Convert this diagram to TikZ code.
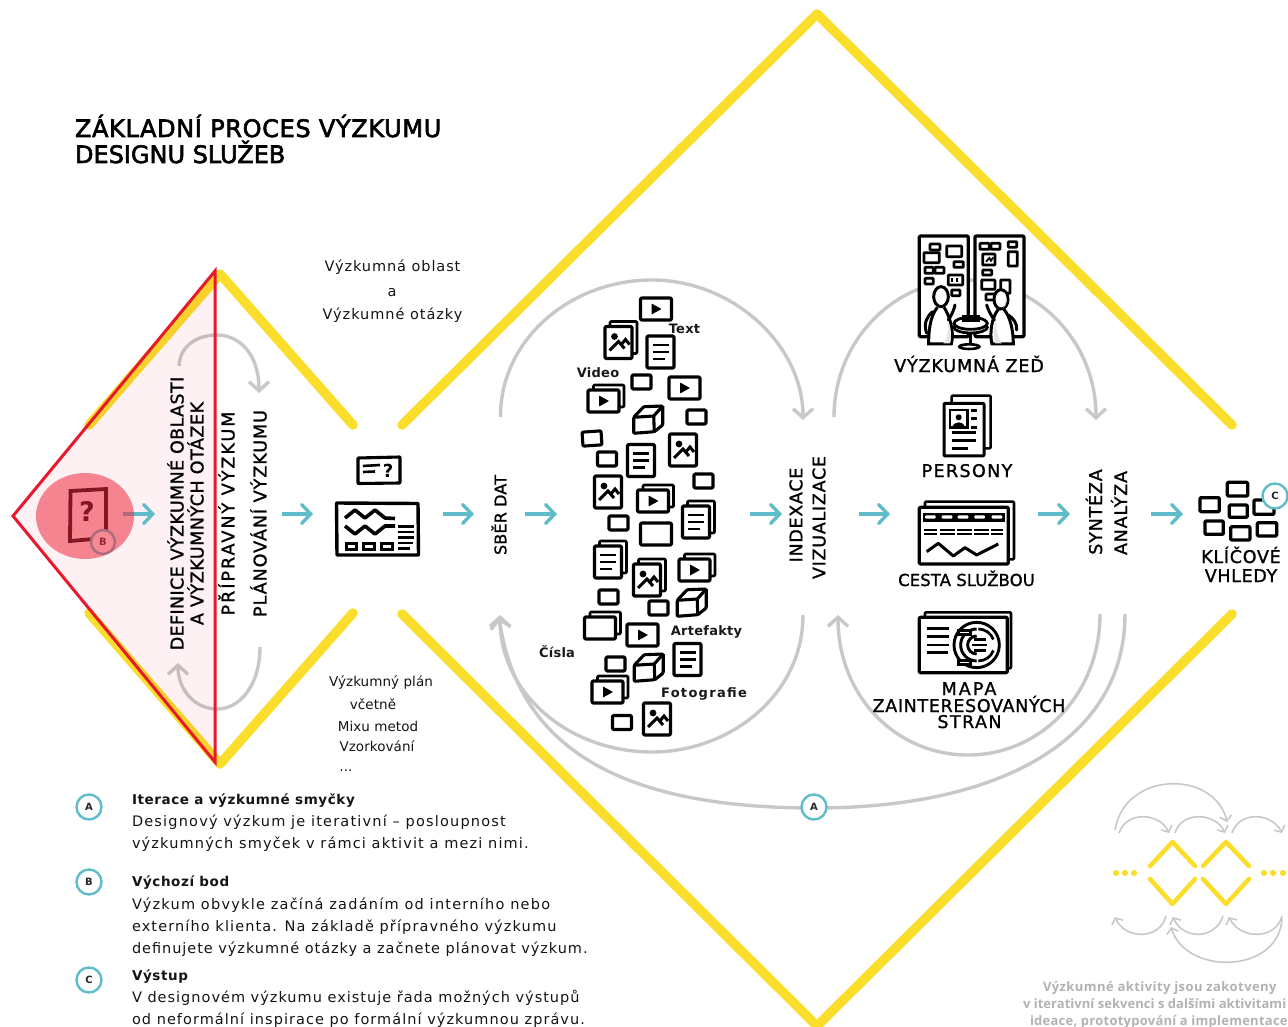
\documentclass[tikz,border=0pt]{standalone}
\usepackage{fontspec}
\usetikzlibrary{arrows.meta,calc}
\setmainfont{DejaVu Sans}
\newfontfamily\bodyf[LetterSpace=8]{DejaVu Sans}
\newfontfamily\bodyb[LetterSpace=4.4]{DejaVu Sans}
\newfontfamily\capf[LetterSpace=4,FakeBold=1.2]{DejaVu Sans}
\newfontfamily\titlef[LetterSpace=0,FakeBold=2.5]{DejaVu Sans}
\newfontfamily\greyf[LetterSpace=3.3]{Open Sans}
\newcommand\lsp[1]{\addfontfeature{LetterSpace=#1}}
\definecolor{yel}{HTML}{FBDD2B}
\definecolor{teal2}{HTML}{5FBDCA}
\definecolor{gry}{HTML}{C8C8C8}
\definecolor{redl}{HTML}{E8192C}
\definecolor{greytxt}{HTML}{B2B2B2}
\tikzset{
 every node/.style={inner sep=0pt,outer sep=0pt},
 yline/.style={draw=yel,line width=9.5pt,line cap=round,line join=round},
 yminis/.style={draw=yel,line width=4.5pt,line cap=round,line join=round},
 ydot/.style={fill=yel},
 tarrow/.style={draw=teal2,line width=3.4pt,-{Straight Barb[length=9pt,width=19pt,line cap=round]}},
 loopg/.style={draw=gry,line width=3.4pt,-{Straight Barb[length=9pt,width=20pt]}},
 minig/.style={draw=gry,line width=1.6pt,-{Straight Barb[length=5pt,width=12pt]}},
 ico/.style={draw=black,line width=3.1pt,line join=round,fill=white,rounded corners=1pt},
 ln/.style={draw=black,line width=2.6pt},
 badge/.style={circle,draw=teal2,line width=2.4pt,fill=white,minimum size=25pt,font=\fontsize{10}{10}\bodyf\bfseries,text=black!85},
 body/.style={anchor=base west,font=\fontsize{14.5}{14.5}\bodyf,text=black!92},
 bodyh/.style={anchor=base west,font=\fontsize{13.5}{13.5}\bodyb\bfseries,text=black!92},
 tlab/.style={anchor=base,font=\fontsize{14.5}{14.5}\bodyf,text=black!92},
 plab/.style={anchor=base,font=\fontsize{13.5}{13.5}\bodyf\lsp{.5},text=black!92},
 smlab/.style={anchor=base,font=\fontsize{13}{13}\selectfont\bfseries\lsp{2},text=black!90},
 rotw/.style={rotate=90,anchor=center,font=\fontsize{17.5}{17.5}\capf,text=black},
 caplab/.style={anchor=base,font=\fontsize{17.5}{17.5}\capf,text=black},
 gtx/.style={anchor=base west,font=\fontsize{13}{13}\greyf\bfseries,text=greytxt},
 pics/sbox/.style={code={\draw[ico] (-9.5,-7) rectangle (9.5,7);}},
 pics/vid/.style={code={\draw[ico] (-15.5,-11) rectangle (15.5,11);
    \fill[rounded corners=.5pt] (-4.5,-5.5)--(5.5,0)--(-4.5,5.5)--cycle;}},
 pics/emp/.style={code={\draw[ico] (-15.5,-11) rectangle (15.5,11);}},
 pics/docu/.style={code={\draw[ico] (-13.5,-16) rectangle (13.5,16);
    \draw[ln] (-8,-7)--(8,-7) (-8,0)--(8,0) (-8,7)--(4,7);}},
 pics/phot/.style={code={\draw[ico] (-13.5,-16) rectangle (13.5,16);
    \fill (-4,-6) circle (3.4);
    \draw[ln,line width=3pt] (-9,8)--(0,-1)--(6,6) (2,3)--(7,-3)--(11,2);}},
 pics/backv/.style={code={\draw[ico,line width=2.6pt] (-10,-16) rectangle (20.5,6);}},
 pics/backd/.style={code={\draw[ico,line width=2.6pt] (-8.5,-21) rectangle (18.5,11);}},
 pics/cube/.style={code={\path[fill=white] (-14.3,-2.7)--(-4.3,-13.3)--(14.7,-14)--(14.7,5)--(6.3,11.7)--(-14.3,13.3)--cycle;
    \draw[ico,fill=none] (-14.3,-2.7)--(5.7,-4)--(6.3,11.7)--(-14.3,13.3)--cycle;
    \draw[ico,fill=none] (-14.3,-2.7)--(-4.3,-13.3)--(14.7,-14)--(5.7,-4);
    \draw[ico,fill=none] (14.7,-14)--(14.7,5)--(6.3,11.7);}},
}
\begin{document}
\begin{tikzpicture}[x=1pt,y=-1pt]
\useasboundingbox (0,0) rectangle (1288,1027);
% ---------- yellow diamonds
\coordinate (bigL1) at (402,425); \coordinate (bigT) at (817,14); \coordinate (bigR1) at (1232,425);
\coordinate (bigL2) at (402,614); \coordinate (bigB) at (817,1026); \coordinate (bigR2) at (1232,614);
\draw[yline] (bigL1)--(bigT)--(bigR1);
\draw[yline] (bigL2)--(bigB)--(bigR2);
\coordinate (smA) at (89,425); \coordinate (smT) at (220,274); \coordinate (smB) at (353,425);
\coordinate (smC) at (89,613); \coordinate (smD) at (220,764); \coordinate (smE) at (353,613);
\draw[yline] (smA)--(smT)--(smB);
\draw[yline] (smC)--(smD)--(smE);
% ---------- big grey loops
\coordinate (la) at (500.5,417); \coordinate (lb) at (803,420);
\draw[loopg] (la) .. controls (500,340) and (570,280) .. (652,280) .. controls (733,280) and (803,345) .. (lb);
\coordinate (lc) at (803,615); \coordinate (ld) at (500,615);
\draw[loopg] (lc) .. controls (803,695) and (730,752) .. (652,752) .. controls (570,752) and (500,695) .. (ld);
\coordinate (ra) at (834,417); \coordinate (rb) at (1096,420);
\draw[loopg] (ra) .. controls (834,340) and (895,280) .. (965,280) .. controls (1035,280) and (1096,340) .. (rb);
\coordinate (rc) at (1100,614); \coordinate (rd) at (838,615);
\draw[loopg] (rc) .. controls (1100,695) and (1040,755) .. (968,755) .. controls (895,755) and (838,695) .. (rd);
\coordinate (ea) at (1125,614); \coordinate (eb) at (499,617);
\draw[loopg] (ea) .. controls (1125,740) and (1000,808) .. (815,808) .. controls (640,808) and (520,760) .. (eb);
% ---------- small grey loops
\coordinate (sa) at (179,366); \coordinate (sb) at (259,393);
\draw[loopg] (sa) .. controls (180,345) and (198,335) .. (217,335) .. controls (240,335) and (259,355) .. (sb);
\coordinate (sc) at (260,647); \coordinate (sd) at (178,663);
\draw[loopg] (sc) .. controls (260,685) and (240,709) .. (217,709) .. controls (195,709) and (178,690) .. (sd);
% ---------- pink triangle
\coordinate (triL) at (13,516); \coordinate (triT) at (215,271); \coordinate (triB) at (215,762);
\fill[redl,opacity=.06] (triL)--(triT)--(triB)--cycle;
\draw[draw=redl,line width=3pt,line join=miter] (triL)--(triT)--(triB)--cycle;
% ---------- start icon + arrow under translucent ellipse
\draw[draw=black,line width=3.8pt,line join=miter] (70.5,491)--(106,489)--(106,538)--(70,541)--cycle;
\node[font=\fontsize{27}{27}\selectfont\bfseries] (qm) at (87,511) {?};
\coordinate (t1a) at (123,514); \coordinate (t1b) at (155,514);
\draw[tarrow] (t1a)--(t1b);
\node[badge,minimum size=24pt] (badgeBstart) at (103,542) {B};
\fill[fill={rgb,255:red,238;green,42;blue,63},opacity=.55] (85,516) ellipse (49 and 43);
% ---------- teal arrows
\foreach \n/\a/\b in {2/282/313,3/443/474,4/525/557,5/750/782,6/859/890,7/1038/1070,8/1151/1183}{
  \coordinate (ta\n) at (\a,514); \coordinate (tb\n) at (\b,514);
  \draw[tarrow] (ta\n)--(tb\n);}
% ---------- rotated labels
\node[rotw] (r1) at (175.5,513.5) {\lsp{2.2}DEFINICE VÝZKUMNÉ OBLASTI};
\node[rotw] (r2) at (195.5,513.5) {\lsp{3.1}A VÝZKUMNÝCH OTÁZEK};
\node[rotw] (r3) at (226.5,513.5) {\lsp{11.5}PŘÍPRAVNÝ VÝZKUM};
\node[rotw] (r4) at (258.5,513.5) {\lsp{5.6}PLÁNOVÁNÍ VÝZKUMU};
\node[rotw,font=\fontsize{16}{16}\capf] (r5) at (499,515) {\lsp{1}SBĚR DAT};
\node[rotw] (r6) at (796,515) {\lsp{4}INDEXACE};
\node[rotw] (r7) at (819,517.5) {\lsp{4.2}VIZUALIZACE};
\node[rotw] (r8) at (1094,512) {\lsp{4.6}SYNTÉZA};
\node[rotw] (r9) at (1119,513) {\lsp{4.7}ANALÝZA};
% ---------- plan icon
\draw[ico,rounded corners=.5pt] (358,458)--(400,457)--(400,483)--(358,483.5)--cycle;
\draw[ln] (363,466)--(380,465) (363,472)--(375,471.5);
\node[font=\fontsize{18}{18}\selectfont\bfseries] (q2) at (388,470.5) {?};
\draw[ico,rounded corners=.5pt,line width=3.4pt] (336.5,503)--(418,503.5)--(418.5,555)--(337,555)--cycle;
\draw[line width=3.6pt,black,line join=round] (345,518)--(355,510)--(365,518)--(375,510)--(385,518)--(395,518.5);
\draw[line width=3.6pt,black,line join=round] (345,526)--(355,534)--(365,526)--(375,534)--(385,526)--(395,526);
\draw[line width=3pt,black] (346,543) rectangle (356,549) (363,543) rectangle (374,549) (381,543) rectangle (392,549);
\draw[line width=2.8pt,black] (398,526.5)--(414,526.5) (398,532)--(414,532) (398,537.5)--(414,537.5) (398,543)--(413,543) (398,548.5)--(410,548.5);
% ---------- cluster icons
\pic at (656,309) {vid};
\pic at (618.5,342.5) {backd}; \pic at (618.5,342.5) {phot};
\pic at (660.5,352) {docu};
\pic at (641.5,382) {sbox};
\pic at (684.5,388) {vid};
\pic at (603.5,401) {backv}; \pic at (603.5,401) {vid};
\pic at (648,420) {cube};
\pic at (696.5,417) {sbox};
\pic[rotate=4] at (592,438.5) {sbox};
\pic at (607,459) {sbox};
\pic at (641,460.5) {docu};
\pic at (683,450) {phot};
\pic at (703.5,481) {sbox};
\pic at (608,492) {phot};
\pic at (653,501) {backv}; \pic at (653,501) {vid};
\pic at (696,522) {backd}; \pic at (696,522) {docu};
\pic at (618.5,523) {sbox};
\pic at (656,534) {emp};
\pic at (608,562) {backd}; \pic at (608,562) {docu};
\pic at (647,580) {backd}; \pic at (647,580) {phot};
\pic at (694.5,570) {backv}; \pic at (694.5,570) {vid};
\pic at (608.5,597) {sbox};
\pic at (658.5,608) {sbox};
\pic at (691.5,603) {cube};
\pic at (600,628) {backv}; \pic at (600,628) {emp};
\pic at (642.5,635) {vid};
\pic at (687.5,659.5) {docu};
\pic at (615.5,664) {sbox};
\pic at (648.5,668) {cube};
\pic at (607.5,692) {backv}; \pic at (607.5,692) {vid};
\pic at (622,722.5) {sbox};
\pic at (657,719) {phot};
% cluster labels
\node[smlab] (lText) at (684.5,333) {Text};
\node[smlab] (lVideo) at (598,377) {Video};
\node[smlab] (lArt) at (706.5,635) {Artefakty};
\node[smlab] (lCis) at (557,657) {Čísla};
\node[smlab,font=\fontsize{13}{13}\selectfont\bfseries\lsp{10}] (lFot) at (704,697) {Fotografie};
% ---------- research wall
\begin{scope}[shift={(880,230)},x=.3333pt,y=-.3333pt]
\draw[ico,line width=3.2pt] (118,18) rectangle (265,320);
\draw[ico,line width=3.2pt] (285,18) rectangle (432,320);
\foreach \a/\b/\c/\d in {150/42/180/60,200/48/245/80,132/68/178/98,222/95/250/112,135/112/160/130,165/112/192/130,135/145/160/162,205/135/248/165,215/180/240/197,
 300/40/328/58,333/40/360/58,385/35/410/52,308/72/345/105,385/65/412/108,308/120/335/135,305/150/345/178,362/150/390/190,318/192/345/210}
 {\draw[black,line width=2.8pt,rounded corners=.8pt] (\a,\b) rectangle (\c,\d);}
\draw[black,line width=1.8pt] (318,95)--(328,84)--(333,92)--(340,82);
\draw[black,line width=1.8pt] (215,145)--(215,155) (230,145)--(230,155);
% table
\draw[black,line width=2.6pt] (272,345)--(272,300);
\draw[black,line width=2.6pt,fill=white] (268,350) ellipse (30 and 7);
\draw[black,line width=2.8pt,fill=white] (272,292) ellipse (50 and 17);
\draw[black,line width=2.8pt,fill=white] (272,280) ellipse (50 and 18);
\draw[black,line width=2.2pt,fill=black] (250,258) rectangle (297,274);
% left person
\draw[black,line width=3pt,fill=white] (172,232) .. controls (148,262) and (146,310) .. (146,342) -- (214,342) .. controls (224,305) and (208,255) .. (192,232);
\fill[black!10] (190,340) .. controls (205,320) and (210,290) .. (200,260) .. controls (215,295) and (215,325) .. (210,340) -- cycle;
\draw[black,line width=3pt,line cap=round] (158,245) .. controls (140,260) and (130,280) .. (140,310);
\draw[black,line width=3pt,line cap=round] (205,270) .. controls (215,255) and (222,240) .. (225,225);
\draw[black,line width=3pt,fill=white] (183,200) ellipse (22 and 30);
% right person
\draw[black,line width=3pt,fill=white] (355,238) .. controls (335,262) and (328,310) .. (336,342) -- (400,342) .. controls (400,305) and (392,262) .. (372,238);
\fill[black!10] (345,340) .. controls (340,320) and (340,290) .. (350,265) .. controls (345,295) and (355,325) .. (365,340) -- cycle;
\draw[black,line width=3pt,line cap=round] (385,255) .. controls (400,265) and (412,280) .. (410,300);
\draw[black,line width=3pt,line cap=round] (343,270) .. controls (332,255) and (325,240) .. (320,225);
\draw[black,line width=3pt,fill=white] (363,208) ellipse (21 and 29);
\fill[black!12] (372,185) .. controls (386,205) and (382,225) .. (368,235) .. controls (378,220) and (380,200) .. (372,185) -- cycle;
\end{scope}
\node[caplab] (nWall) at (969,372) {\lsp{5.1}VÝZKUMNÁ ZEĎ};
% ---------- persona
\begin{scope}[shift={(880,230)},x=.3333pt,y=-.3333pt]
\draw[ico,line width=2.6pt] (215,497) rectangle (332,655);
\draw[ico,line width=3pt] (192,520) rectangle (312,678);
\draw[black,line width=2.8pt] (210,540) rectangle (262,593);
\fill[black] (236,562) circle (9);
\fill[black] (218,592) .. controls (220,572) and (252,572) .. (254,592) -- cycle;
\draw[black,line width=2.8pt] (272,542)--(292,542) (272,566)--(292,566) (272,592)--(292,592) (215,608)--(288,608) (215,632)--(288,632) (215,655)--(265,655);
\end{scope}
\node[caplab] (nPers) at (967,477) {\lsp{7.8}PERSONY};
% ---------- journey map
\begin{scope}[shift={(880,480)},x=.3333pt,y=-.3333pt]
\draw[ico,line width=2.6pt] (135,65) rectangle (402,238);
\draw[ico,line width=3.2pt] (118,82) rectangle (385,252);
\fill[black] (128,98) rectangle (375,125);
\foreach \a in {135,185,233,283,335}{\fill[white,rounded corners=1pt] (\a,106) rectangle ++(32,10);}
\draw[black,line width=2.6pt] (132,150)--(370,150) (132,162)--(370,162);
\foreach \a in {172,224,276,326}{\fill[white] (\a,146) rectangle ++(7,20);}
\draw[black,line width=3pt,line join=round] (140,215)--(175,190)--(220,228)--(255,203)--(290,225)--(355,192);
\end{scope}
\node[caplab,font=\fontsize{16.5}{16.5}\capf] (nCesta) at (966.5,586) {\lsp{.5}CESTA SLUŽBOU};
% ---------- stakeholder map
\begin{scope}[shift={(880,480)},x=.3333pt,y=-.3333pt]
\draw[ico,line width=2.6pt] (135,397) rectangle (393,565);
\draw[ico,line width=3.2pt] (118,412) rectangle (382,578);
\draw[black,line width=2.8pt] (140,445)--(207,445) (140,470)--(207,470) (140,495)--(207,495) (140,518)--(203,518);
\draw[black,line width=2.9pt] (290,495) circle (68);
\draw[black,line width=2.9pt] (290,543) arc (90:270:48);
\draw[black,line width=2.9pt] (290,522) arc (90:270:27);
\draw[black,line width=2.7pt] (295,447) arc (270:340:48) (295,543) arc (90:20:48);
\draw[black,line width=2.7pt] (275,495)--(320,495);
\draw[black,line width=2.7pt] (282,478)--(318,478) (282,512)--(318,512);
\draw[black,line width=2.5pt,fill=white] (235,452) rectangle (272,464);
\draw[black,line width=2.5pt,fill=white] (235,542) rectangle (272,554);
\end{scope}
\node[caplab] (nMapa) at (969,695) {\lsp{12}MAPA};
\node[caplab] (nZain) at (969,712) {\lsp{3.8}ZAINTERESOVANÝCH};
\node[caplab] (nStran) at (969.5,728) {\lsp{8.3}STRAN};
% ---------- key insights
\begin{scope}[shift={(1140,460)},x=.3333pt,y=-.3333pt]
\foreach \a/\b/\c/\d in {262/67/323/108,180/113/238/155,268/135/322/172,342/120/402/163,195/183/250/223,272/200/330/240,352/188/410/228}
 {\draw[ico,line width=3.3pt] (\a,\b) rectangle (\c,\d);}
\end{scope}
\node[badge] (badgeC) at (1275,496) {C};
\node[caplab] (nKlic) at (1241,563) {\lsp{4.2}KLÍČOVÉ};
\node[caplab] (nVhl) at (1241,582) {\lsp{3.8}VHLEDY};
% ---------- top texts
\node[anchor=base west,font=\fontsize{24}{24}\titlef,text=black] (ttl1) at (75,137) {\lsp{2.7}ZÁKLADNÍ PROCES VÝZKUMU};
\node[anchor=base west,font=\fontsize{24}{24}\titlef,text=black] (ttl2) at (75,163) {DESIGNU SLUŽEB};
\node[tlab] (o1) at (392.5,272) {\lsp{6.3}Výzkumná oblast};
\node[tlab] (o2) at (392,296) {a};
\node[tlab] (o3) at (392.5,319) {\lsp{6.6}Výzkumné otázky};
\node[plab] (p1) at (381,686) {Výzkumný plán};
\node[plab] (p2) at (373,709) {včetně};
\node[plab] (p3) at (378,731) {Mixu metod};
\node[plab] (p4) at (377,751) {Vzorkování};
\node[plab] (p5) at (346,771) {...};
% badges + legend
\node[badge] (badgeA) at (814,807) {A};
\node[badge] (legA) at (89,807) {A};
\node[badge] (legB) at (89,882) {B};
\node[badge] (legC) at (89,980) {C};
\node[bodyh] (a0) at (132,804) {Iterace a výzkumné smyčky};
\node[body] (a1) at (132,826) {\lsp{8.2}Designový výzkum je iterativní – posloupnost};
\node[body] (a2) at (132,848) {\lsp{7.9}výzkumných smyček v rámci aktivit a mezi nimi.};
\node[bodyh] (b0) at (132,886) {Výchozí bod};
\node[body] (b1) at (132,909) {\lsp{8.5}Výzkum obvykle začíná zadáním od interního nebo};
\node[body] (b2) at (132,931) {\lsp{7.7}externího klienta. Na základě přípravného výzkumu};
\node[body] (b3) at (132,953) {\lsp{6.6}definujete výzkumné otázky a začnete plánovat výzkum.};
\node[bodyh] (c0) at (132,980) {Výstup};
\node[body] (c1) at (132,1002) {\lsp{6.9}V designovém výzkumu existuje řada možných výstupů};
\node[body] (c2) at (132,1024) {\lsp{7.2}od neformální inspirace po formální výzkumnou zprávu.};
% ---------- mini diagram
\draw[yminis] (1150,866)--(1172.5,842)--(1195,866);
\draw[yminis] (1203,866)--(1226,842)--(1249,866);
\draw[yminis] (1150,879)--(1172.5,904)--(1195,879);
\draw[yminis] (1203,879)--(1226,904)--(1249,879);
\foreach \p in {1116,1125,1134,1264,1273,1283}{\fill[ydot] (\p,873) circle (3.1);}
\foreach \n/\ax/\ay/\cax/\cay/\cbx/\cby/\bx/\by in {
 a/1115/830/1125/770/1215/770/1227/822,
 b/1119/833/1127/810/1160/813/1169/833,
 c/1175/833/1182/810/1216/813/1225/833,
 d/1232/833/1240/810/1272/813/1282/833,
 e/1166/916/1160/940/1125/940/1115/917,
 f/1223/916/1215/940/1183/940/1173/917,
 g/1282/916/1276/940/1240/940/1229/917,
 h/1282/919/1278/975/1185/975/1171/927}{
  \coordinate (m\n1) at (\ax,\ay); \coordinate (m\n2) at (\bx,\by);
  \draw[minig] (m\n1) .. controls (\cax,\cay) and (\cbx,\cby) .. (m\n2);}
\node[gtx] (g1) at (1043,991) {Výzkumné aktivity jsou zakotveny};
\node[gtx] (g2) at (1023,1008) {\lsp{0.3}v iterativní sekvenci s dalšími aktivitami};
\node[gtx] (g3) at (1030,1025) {\lsp{1.9}ideace, prototypování a implementace};
\end{tikzpicture}
\end{document}
